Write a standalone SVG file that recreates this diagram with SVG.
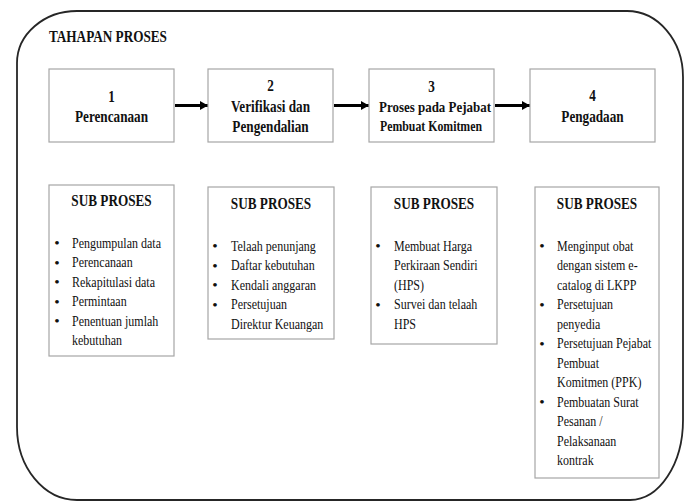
<svg xmlns="http://www.w3.org/2000/svg" width="687" height="502" viewBox="0 0 687 502">
<style>
  .bg { fill: #ffffff; }
  .frame { fill: none; stroke: #262626; stroke-width: 1.8; }
  .box { fill: #ffffff; stroke: #a6a6a6; stroke-width: 1.2; }
  .b { font-family: "Liberation Serif", "Times New Roman", serif; font-weight: bold; font-size: 16.5px; fill: #111; }
  .t { font-family: "Liberation Serif", "Times New Roman", serif; font-size: 15.5px; fill: #111; }
  .sm { font-family: "Liberation Serif", "Times New Roman", serif; font-weight: bold; font-size: 14.5px; fill: #111; }
  .arrow { stroke: #000; stroke-width: 3; fill: none; }
</style>
<defs>
  <marker id="ah" markerUnits="userSpaceOnUse" markerWidth="9" markerHeight="10" refX="8" refY="5" orient="auto">
    <path d="M0,0.5 L8,5 L0,9.5 Z" fill="#000"/>
  </marker>
</defs>
<rect class="bg" x="0" y="0" width="687" height="502"/>

<g id="frame">
  <path class="frame" d="M 77 11 H 627 A 56 66 0 0 1 683 77 V 420 A 53 80 0 0 1 630 500 H 77 A 60 73 0 0 1 17 427 V 63 A 60 52 0 0 1 77 11 Z"/>
  <text class="b" transform="translate(49 42) scale(0.8 1)">TAHAPAN PROSES</text>
</g>

<g id="connectors">
  <line class="arrow" x1="175" y1="105.5" x2="208" y2="105.5" marker-end="url(#ah)"/>
  <line class="arrow" x1="334" y1="105.5" x2="369" y2="105.5" marker-end="url(#ah)"/>
  <line class="arrow" x1="495" y1="105.5" x2="530" y2="105.5" marker-end="url(#ah)"/>
</g>

<g id="step1">
  <rect class="box" x="49" y="69" width="125" height="73"/>
  <text class="b" text-anchor="middle" transform="translate(111.5 101.5) scale(0.8 1)">1</text>
  <text class="b" text-anchor="middle" transform="translate(111.5 122) scale(0.8 1)">Perencanaan</text>
</g>

<g id="step2">
  <rect class="box" x="208" y="69" width="125" height="73"/>
  <text class="b" text-anchor="middle" transform="translate(270.5 91) scale(0.8 1)">2</text>
  <text class="b" text-anchor="middle" transform="translate(270.5 112) scale(0.8 1)">Verifikasi dan</text>
  <text class="b" text-anchor="middle" transform="translate(270.5 131.5) scale(0.8 1)">Pengendalian</text>
</g>

<g id="step3">
  <rect class="box" x="369" y="69" width="125" height="73"/>
  <text class="b" text-anchor="middle" transform="translate(431.5 91.5) scale(0.8 1)">3</text>
  <text class="sm" x="379" y="112" textLength="112" lengthAdjust="spacingAndGlyphs">Proses pada Pejabat</text>
  <text class="sm" x="380" y="131" textLength="102" lengthAdjust="spacingAndGlyphs">Pembuat Komitmen</text>
</g>

<g id="step4">
  <rect class="box" x="530" y="69" width="125" height="73"/>
  <text class="b" text-anchor="middle" transform="translate(592.5 101) scale(0.8 1)">4</text>
  <text class="b" text-anchor="middle" transform="translate(592.5 121.5) scale(0.8 1)">Pengadaan</text>
</g>

<g id="sub1">
  <rect class="box" x="49" y="185" width="125" height="171"/>
  <text class="b" text-anchor="middle" transform="translate(111.5 206) scale(0.8 1)">SUB PROSES</text>
  <g class="t" text-anchor="middle">
    <text x="57" y="248">•</text>
    <text x="57" y="267.5">•</text>
    <text x="57" y="287">•</text>
    <text x="57" y="306.5">•</text>
    <text x="57" y="326">•</text>
  </g>
  <g class="t" transform="translate(72 0) scale(0.775 1)">
    <text x="0" y="248">Pengumpulan data</text>
    <text x="0" y="267.5">Perencanaan</text>
    <text x="0" y="287">Rekapitulasi data</text>
    <text x="0" y="306.5">Permintaan</text>
    <text x="0" y="326">Penentuan jumlah</text>
    <text x="0" y="345.5">kebutuhan</text>
  </g>
</g>

<g id="sub2">
  <rect class="box" x="208" y="187" width="126" height="152"/>
  <text class="b" text-anchor="middle" transform="translate(271 209) scale(0.8 1)">SUB PROSES</text>
  <g class="t" text-anchor="middle">
    <text x="215" y="251">•</text>
    <text x="215" y="270.5">•</text>
    <text x="215" y="290">•</text>
    <text x="215" y="309.5">•</text>
  </g>
  <g class="t" transform="translate(231 0) scale(0.775 1)">
    <text x="0" y="251">Telaah penunjang</text>
    <text x="0" y="270.5">Daftar kebutuhan</text>
    <text x="0" y="290">Kendali anggaran</text>
    <text x="0" y="309.5">Persetujuan</text>
    <text x="0" y="329">Direktur Keuangan</text>
  </g>
</g>

<g id="sub3">
  <rect class="box" x="371" y="187" width="126" height="157"/>
  <text class="b" text-anchor="middle" transform="translate(434 209) scale(0.8 1)">SUB PROSES</text>
  <g class="t" text-anchor="middle">
    <text x="378" y="251">•</text>
    <text x="378" y="309.5">•</text>
  </g>
  <g class="t" transform="translate(394 0) scale(0.775 1)">
    <text x="0" y="251">Membuat Harga</text>
    <text x="0" y="270.5">Perkiraan Sendiri</text>
    <text x="0" y="290">(HPS)</text>
    <text x="0" y="309.5">Survei dan telaah</text>
    <text x="0" y="329">HPS</text>
  </g>
</g>

<g id="sub4">
  <rect class="box" x="535" y="187" width="124" height="291"/>
  <text class="b" text-anchor="middle" transform="translate(597 209) scale(0.8 1)">SUB PROSES</text>
  <g class="t" text-anchor="middle">
    <text x="542" y="251">•</text>
    <text x="542" y="309.5">•</text>
    <text x="542" y="348.5">•</text>
    <text x="542" y="407">•</text>
  </g>
  <g class="t" transform="translate(557 0) scale(0.775 1)">
    <text x="0" y="251">Menginput obat</text>
    <text x="0" y="270.5">dengan sistem e-</text>
    <text x="0" y="290">catalog di LKPP</text>
    <text x="0" y="309.5">Persetujuan</text>
    <text x="0" y="329">penyedia</text>
    <text x="0" y="348.5">Persetujuan Pejabat</text>
    <text x="0" y="368">Pembuat</text>
    <text x="0" y="387.5">Komitmen (PPK)</text>
    <text x="0" y="407">Pembuatan Surat</text>
    <text x="0" y="426.5">Pesanan /</text>
    <text x="0" y="446">Pelaksanaan</text>
    <text x="0" y="465.5">kontrak</text>
  </g>
</g>
</svg>
